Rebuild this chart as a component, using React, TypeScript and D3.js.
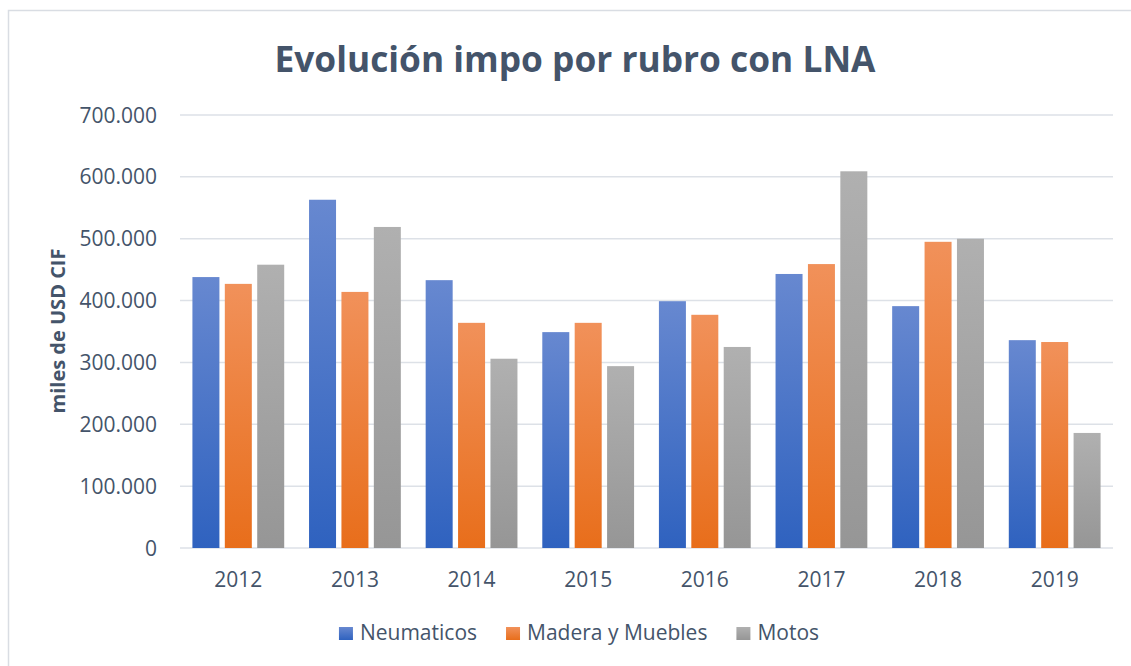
import React from "react";
import * as d3 from "d3";

const years = ["2012", "2013", "2014", "2015", "2016", "2017", "2018", "2019"];
const seriesNames = ["Neumaticos", "Madera y Muebles", "Motos"];
const neumaticos = [438000, 563000, 433000, 349000, 399000, 443000, 391000, 336000];
const maderaMuebles = [427000, 414000, 364000, 364000, 377000, 459000, 495000, 333000];
const motos = [458000, 519000, 306000, 294000, 325000, 609000, 500000, 186000];
const yTicks = [0, 100000, 200000, 300000, 400000, 500000, 600000, 700000];

const seriesValues = [neumaticos, maderaMuebles, motos];
const gradients = [
  { id: "gBlue", top: "#6788d0", bottom: "#2f62bf" },
  { id: "gOrange", top: "#f1915a", bottom: "#e86e1b" },
  { id: "gGray", top: "#b0b0b0", bottom: "#969696" },
];

const W = 1131;
const H = 666;
const plotLeft = 180;
const plotRight = 1113;
const plotTop = 115;
const plotBottom = 548;
const textColor = "#44546a";
const gridColor = "#dde1e7";
const FONT = "'Open Sans', sans-serif";

const loc = d3.formatLocale({ thousands: ".", decimal: ",", grouping: [3], currency: ["$", ""] });
const fmt = loc.format(",.0f");

function measure(text: string, font: string): number {
  const c = document.createElement("canvas");
  const ctx = c.getContext("2d");
  if (!ctx) return text.length * 10;
  ctx.font = font;
  return ctx.measureText(text).width;
}

export default function App() {
  const x0 = d3.scaleBand<string>().domain(years).range([plotLeft, plotRight]).paddingInner(0).paddingOuter(0);
  const bw = x0.bandwidth();
  const gap = 0.92;
  const ovl = 0.2;
  const w = bw / (3 + 2 * ovl + gap);
  const x1 = d3
    .scaleBand<string>()
    .domain(seriesNames)
    .range([(gap * w) / 2, bw - (gap * w) / 2])
    .paddingInner(ovl / (1 + ovl))
    .paddingOuter(0);
  const y = d3.scaleLinear().domain([0, 700000]).range([plotBottom, plotTop]);

  // legend layout
  const legendFont = `21px 'Open Sans'`;
  const sw = 14;
  const swGap = 7;
  const itemGap = 29;
  const widths = seriesNames.map((s) => measure(s, legendFont));
  const total = widths.reduce((a, b) => a + b, 0) + seriesNames.length * (sw + swGap) + (seriesNames.length - 1) * itemGap;
  const legendCenter = 579;
  let cursor = legendCenter - total / 2;
  const legendItems = seriesNames.map((s, i) => {
    const item = { name: s, x: cursor, i };
    cursor += sw + swGap + widths[i] + itemGap;
    return item;
  });

  return (
    <svg
      width={W}
      height={H}
      style={{ position: "absolute", left: 0, top: 0, background: "#fff" }}
      fontFamily={FONT}
    >
      <defs>
        {gradients.map((g) => (
          <linearGradient key={g.id} id={g.id} x1="0" y1="0" x2="0" y2="1">
            <stop offset="0%" stopColor={g.top} />
            <stop offset="100%" stopColor={g.bottom} />
          </linearGradient>
        ))}
      </defs>
      <rect x={0} y={0} width={W} height={H} fill="#fff" />
      <rect x={8.5} y={10.5} width={W + 20} height={H + 20} fill="none" stroke="#d9dde3" strokeWidth={1.5} />

      <text x={575} y={72} textAnchor="middle" fontSize={35.3} fontWeight={700} fill={textColor}>
        Evolución impo por rubro con LNA
      </text>

      {yTicks.map((t) => (
        <g key={t}>
          <line x1={plotLeft} x2={plotRight} y1={y(t)} y2={y(t)} stroke={gridColor} strokeWidth={1.5} />
          <text x={157} y={y(t)} dy="0.36em" textAnchor="end" fontSize={21} fill={textColor}>
            {fmt(t)}
          </text>
        </g>
      ))}

      <text
        transform={`translate(65,331) rotate(-90)`}
        textAnchor="middle"
        fontSize={20}
        fontWeight={700}
        fill={textColor}
      >
        miles de USD CIF
      </text>

      {years.map((yr, yi) => (
        <g key={yr} transform={`translate(${x0(yr)},0)`}>
          {seriesNames.map((s, si) => {
            const v = seriesValues[si][yi];
            return (
              <rect
                key={s}
                x={x1(s)}
                y={y(v)}
                width={x1.bandwidth()}
                height={y(0) - y(v)}
                fill={`url(#${gradients[si].id})`}
              />
            );
          })}
          <text x={bw / 2} y={587} textAnchor="middle" fontSize={21} fill={textColor}>
            {yr}
          </text>
        </g>
      ))}

      {legendItems.map((it) => (
        <g key={it.name}>
          <rect x={it.x} y={627} width={sw} height={13} fill={`url(#${gradients[it.i].id})`} />
          <text x={it.x + sw + swGap} y={640} fontSize={21} fill={textColor}>
            {it.name}
          </text>
        </g>
      ))}
    </svg>
  );
}
